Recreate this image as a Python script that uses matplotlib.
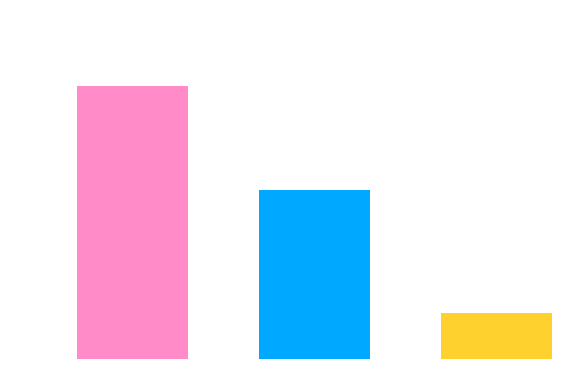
import matplotlib
matplotlib.use("Agg")
import matplotlib.pyplot as plt
import numpy as np

# three bars, no axes or labels in the reference
categories = ["A", "B", "C"]
values = [100, 62, 17]
colors = ["#ff8cc8", "#00a8ff", "#ffd12e"]

fig = plt.figure(figsize=(5.87, 3.90), dpi=100)
# axes box hugs the bars: left edge of first bar to right edge of last
ax = fig.add_axes([77 / 587, 31 / 390, 475 / 587, 273 / 390])

x = np.arange(len(categories))
width = 0.61
ax.bar(x, values, width=width, color=colors, linewidth=0)
ax.set_xlim(-width / 2, len(categories) - 1 + width / 2)
ax.set_ylim(0, max(values))
ax.set_axis_off()

fig.savefig("out.png", dpi=100)
